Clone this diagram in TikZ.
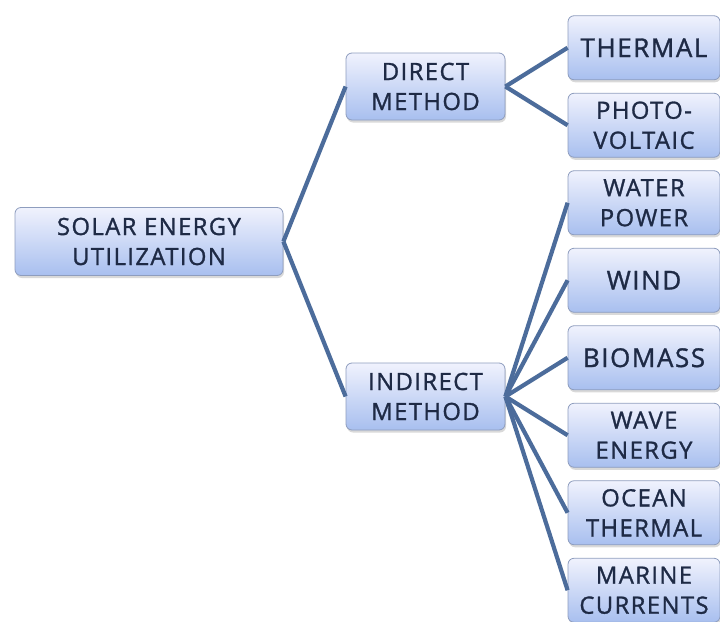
\documentclass[tikz,border=0pt]{standalone}
\usepackage{fontspec}
\setsansfont{Open Sans}[LetterSpace=6, FakeBold=1.2]
\usetikzlibrary{shadows}

\definecolor{boxtop}{HTML}{F0F2FD}
\definecolor{boxbottom}{HTML}{A8BFEF}
\definecolor{boxline}{HTML}{8E9DBE}
\definecolor{boxtext}{HTML}{1E2A45}
\definecolor{linkblue}{HTML}{4C6C9B}

\tikzset{
    box/.style={draw=boxline, line width=0.8pt, rounded corners=6pt,
        top color=boxtop, bottom color=boxbottom, text=boxtext,
        align=center, inner sep=1pt,
        font=\sffamily\fontsize{23.8pt}{30pt}\selectfont,
        drop shadow={opacity=0.3, shadow xshift=1pt, shadow yshift=-2.5pt}},
    rootbox/.style={box, minimum width=268pt, minimum height=68pt},
    methodbox/.style={box, minimum width=159pt, minimum height=67pt},
    leafbox/.style={box, minimum width=152pt, minimum height=64pt},
    bigtext/.style={font=\sffamily\fontsize{26pt}{30pt}\selectfont}
}

\begin{document}
\begin{tikzpicture}[
    grow'=right,
    level 1/.style={level distance=276.5pt, sibling distance=310pt},
    level 2/.style={level distance=218.5pt, sibling distance=77.5pt},
    edge from parent/.style={draw=linkblue, line width=4.2pt},
    edge from parent path={(\tikzparentnode.east) -- (\tikzchildnode.west)}
]
\useasboundingbox (0,0) rectangle (720pt,-621pt);
\node[rootbox] (solar) at (149pt,-241.5pt) {SOLAR ENERGY\\UTILIZATION}
    child {node[methodbox] (direct) {DIRECT\\METHOD}
        child {node[leafbox, bigtext] (thermal) {THERMAL}}
        child {node[leafbox] (photo) {PHOTO-\\VOLTAIC}}
    }
    child {node[methodbox] (indirect) {INDIRECT\\METHOD}
        child {node[leafbox] (water) {WATER\\POWER}}
        child {node[leafbox, bigtext] (wind) {WIND}}
        child {node[leafbox, bigtext] (biomass) {BIOMASS}}
        child {node[leafbox] (wave) {WAVE\\ENERGY}}
        child {node[leafbox] (ocean) {OCEAN\\THERMAL}}
        child {node[leafbox] (marine) {MARINE\\CURRENTS}}
    };
\end{tikzpicture}
\end{document}
